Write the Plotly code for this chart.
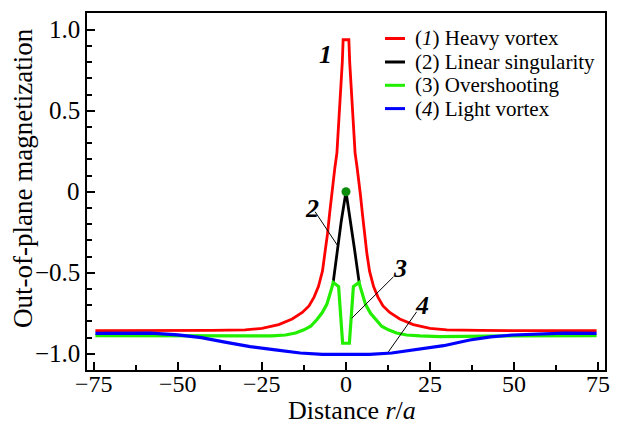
import plotly.graph_objects as go

# ---- data: out-of-plane magnetization profiles vs. distance r/a ----
x_heavy = [-74.5, -55, -40, -30, -25, -20, -16, -13, -11, -9.5, -8.2, -7.0, -6.2, -5.5,
           -4.9, -4.3, -3.9, -3.3, -2.7, -2.1, -1.5, -1.1, -0.85,
           0.85, 1.1, 1.5, 2.1, 2.7, 3.3, 3.9, 4.3, 4.9, 5.5, 6.2, 7.0, 8.2, 9.5, 11,
           13, 16, 20, 25, 30, 40, 55, 74.5]
m_heavy = [-0.857, -0.857, -0.856, -0.852, -0.843, -0.820, -0.785, -0.745, -0.705, -0.650,
           -0.585, -0.490, -0.380, -0.260, -0.140, -0.020, 0.060, 0.150, 0.240, 0.430,
           0.640, 0.800, 0.938,
           0.938, 0.800, 0.640, 0.430, 0.240, 0.150, 0.060, -0.020, -0.140, -0.260,
           -0.380, -0.490, -0.585, -0.650, -0.705, -0.745, -0.785, -0.820, -0.843,
           -0.852, -0.856, -0.857, -0.857]

x_linear = [-3.8, -2.5, -1.4, 0.0, 1.4, 2.5, 3.9]
m_linear = [-0.558, -0.350, -0.180, 0.000, -0.180, -0.350, -0.558]

x_over = [-74.5, -50, -35, -28, -22, -18, -15, -12.5, -10.5, -8.7, -7.2, -5.7, -4.8,
          -4.25, -3.8, -2.2, -1.0, 1.0, 2.2, 3.9, 4.35, 4.9, 5.8, 7.3, 8.8, 10.6,
          12.6, 15, 18, 22, 28, 35, 50, 74.5]
m_over = [-0.888, -0.889, -0.892, -0.894, -0.890, -0.884, -0.872, -0.852, -0.830,
          -0.790, -0.750, -0.695, -0.640, -0.595, -0.560, -0.585, -0.935, -0.935,
          -0.585, -0.560, -0.595, -0.640, -0.695, -0.750, -0.790, -0.830, -0.852,
          -0.872, -0.884, -0.890, -0.894, -0.892, -0.889, -0.888]

x_light = [-74.5, -65, -58, -50, -43, -36, -28.5, -21, -13.6, -7, 0, 7, 13.6, 22, 29,
           36.8, 43, 49.6, 58, 65, 74.5]
m_light = [-0.874, -0.871, -0.872, -0.883, -0.900, -0.928, -0.956, -0.976, -0.995,
           -1.003, -1.005, -1.003, -0.995, -0.972, -0.950, -0.915, -0.896, -0.884,
           -0.875, -0.872, -0.874]

center_point = (0.0, 0.0)

series_names = ["(<i>1</i>) Heavy vortex", "(2) Linear singularity",
                "(3) Overshooting", "(<i>4</i>) Light vortex"]
series_colors = ["#ff0000", "#000000", "#22ee00", "#0000ff"]

x_tickvals = [-75, -50, -25, 0, 25, 50, 75]
x_ticktext = ["\u221275", "\u221250", "\u221225", "0", "25", "50", "75"]
y_tickvals = [-1.0, -0.5, 0.0, 0.5, 1.0]
y_ticktext = ["\u22121.0", "\u22120.5", "0", "0.5", "1.0"]

# curve number labels (text, x, y) and their leader lines (x0, y0, x1, y1)
curve_labels = [("1", -6.2, 0.844), ("2", -10.2, -0.102),
                ("3", 16.1, -0.473), ("4", 22.5, -0.700)]
leaders = [(-9.2, -0.123, -2.6, -0.329),
           (14.1, -0.525, 1.7, -0.781),
           (21.0, -0.741, 12.6, -0.988)]

FONT = "Liberation Serif, Times New Roman, serif"

fig = go.Figure()
fig.add_trace(go.Scatter(x=x_linear, y=m_linear, mode="lines",
                         line=dict(color=series_colors[1], width=2.8), showlegend=False))
fig.add_trace(go.Scatter(x=x_over, y=m_over, mode="lines",
                         line=dict(color=series_colors[2], width=3.2), showlegend=False))
fig.add_trace(go.Scatter(x=x_heavy, y=m_heavy, mode="lines",
                         line=dict(color=series_colors[0], width=2.8), showlegend=False))
fig.add_trace(go.Scatter(x=x_light, y=m_light, mode="lines",
                         line=dict(color=series_colors[3], width=3.2), showlegend=False))
fig.add_trace(go.Scatter(x=[center_point[0]], y=[center_point[1]], mode="markers",
                         marker=dict(color="#0c8c0c", size=9), showlegend=False))

for txt, lx, ly in curve_labels:
    fig.add_annotation(x=lx, y=ly, text="<b><i>%s</i></b>" % txt, showarrow=False,
                       font=dict(family=FONT, size=26, color="black"))
for x0, y0, x1, y1 in leaders:
    fig.add_shape(type="line", x0=x0, y0=y0, x1=x1, y1=y1,
                  line=dict(color="black", width=1))

plot_l, plot_r, plot_t, plot_b = 87, 16, 13, 55
W, H = 621, 425
pw, ph = W - plot_l - plot_r, H - plot_t - plot_b

# tick labels placed tight against the frame
for v, t in zip(x_tickvals, x_ticktext):
    fig.add_annotation(x=v, xref="x", yref="paper", y=(H - plot_b - 384) / ph,
                       text=t, showarrow=False, xanchor="center", yanchor="middle",
                       font=dict(family=FONT, size=24, color="black"))
for v, t in zip(y_tickvals, y_ticktext):
    fig.add_annotation(y=v, yref="y", xref="paper", x=(82 - plot_l) / pw,
                       text=t, showarrow=False, xanchor="right", yanchor="middle",
                       font=dict(family=FONT, size=25, color="black"))

# hand-built legend with short line samples
row_px = [38.5, 62, 85.3, 108.6]
for name, col, py in zip(series_names, series_colors, row_px):
    yp = (H - plot_b - py) / ph
    fig.add_shape(type="line", xref="paper", yref="paper",
                  x0=(385 - plot_l) / pw, x1=(405 - plot_l) / pw, y0=yp, y1=yp,
                  line=dict(color=col, width=3))
    fig.add_annotation(xref="paper", yref="paper", x=(413 - plot_l) / pw, y=yp,
                       xanchor="left", yanchor="middle", text=name, showarrow=False,
                       font=dict(family=FONT, size=21, color="black"))

# axis titles
fig.add_annotation(xref="paper", yref="paper", x=(352 - plot_l) / pw,
                   y=(H - plot_b - 410) / ph, text="Distance <i>r</i>/<i>a</i>",
                   showarrow=False, xanchor="center", yanchor="middle",
                   font=dict(family=FONT, size=26, color="black"))
fig.add_annotation(xref="paper", yref="paper", x=(23 - plot_l) / pw,
                   y=(H - plot_b - 178) / ph, text="Out-of-plane magnetization",
                   textangle=-90, showarrow=False, xanchor="center", yanchor="middle",
                   font=dict(family=FONT, size=27, color="black"))

axis_common = dict(showgrid=False, zeroline=False, showline=True, linecolor="black",
                   linewidth=2, mirror=True, ticks="inside", ticklen=8, tickwidth=2,
                   tickcolor="black", showticklabels=False)
fig.update_xaxes(range=[-77, 77], tickvals=x_tickvals,
                 minor=dict(dtick=12.5, tick0=-75, ticks="inside", ticklen=5,
                            tickwidth=2, tickcolor="black"),
                 **axis_common)
fig.update_yaxes(range=[-1.1, 1.103], tickvals=y_tickvals,
                 minor=dict(dtick=0.1, tick0=0, ticks="inside", ticklen=5,
                            tickwidth=2, tickcolor="black"),
                 **axis_common)
fig.update_layout(width=W, height=H, plot_bgcolor="white", paper_bgcolor="white",
                  margin=dict(l=plot_l, r=plot_r, t=plot_t, b=plot_b),
                  showlegend=False)
fig.write_html("out.html", config={"displayModeBar": False})
